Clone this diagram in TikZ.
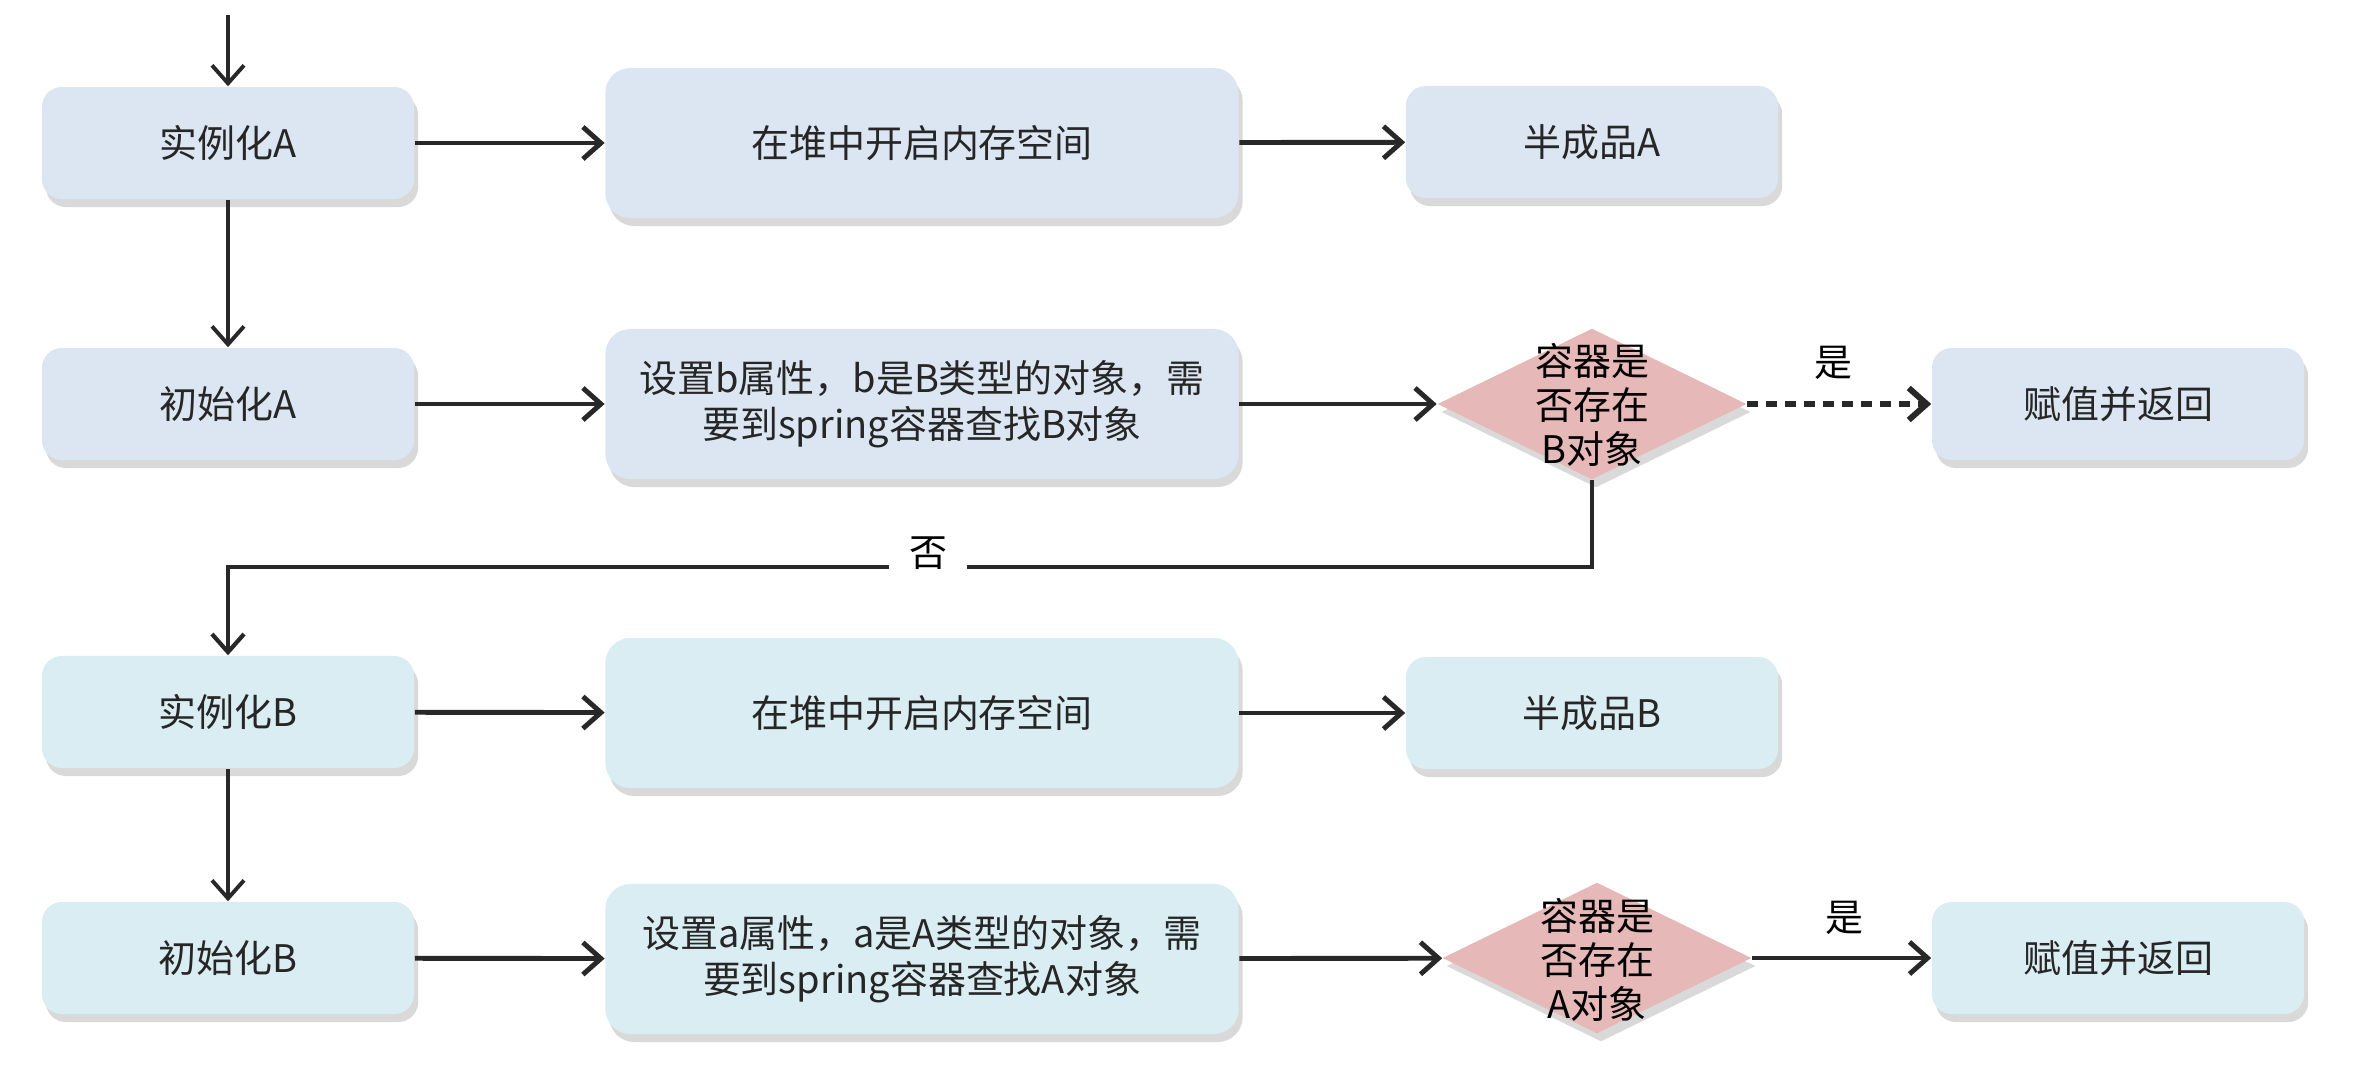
\documentclass[tikz,border=0pt]{standalone}
\usepackage{fontspec}
\setmainfont{Noto Sans CJK SC}
\usetikzlibrary{shapes.geometric,arrows.meta,shadows}
\definecolor{boxA}{RGB}{220,230,242}
\definecolor{boxB}{RGB}{218,237,243}
\definecolor{rhombcol}{RGB}{230,184,183}
\definecolor{linegray}{RGB}{40,40,40}

\begin{document}
\begin{tikzpicture}[x=0.01cm,y=-0.01cm,
  font=\fontsize{10.8pt}{13pt}\selectfont,
  shade/.style={drop shadow={shadow xshift=0.4mm,shadow yshift=-0.8mm,opacity=0.3}},
  box/.style={rounded corners=0.2cm,minimum width=3.72cm,minimum height=1.12cm,inner sep=0pt,align=center,text=black!85,shade},
  bigbox/.style={box,minimum width=6.33cm,minimum height=1.5cm,rounded corners=0.25cm},
  rhomb/.style={diamond,fill=rhombcol,minimum width=3.09cm,minimum height=1.51cm,inner sep=0pt,shade},
  arr/.style={draw=linegray,line width=1.4pt,-{Straight Barb[length=1.8mm,width=3.2mm]}},
  varr/.style={arr,line width=1.1pt}]
\useasboundingbox (0,0) rectangle (2361,1067);

% object A
\node[box,fill=boxA] (instA) at (228,143) {实例化A};
\node[bigbox,fill=boxA] (heapA) at (922,143) {在堆中开启内存空间};
\node[box,fill=boxA] (halfA) at (1592,142) {半成品A};
\node[box,fill=boxA] (initA) at (228,404) {初始化A};
\node[bigbox,fill=boxA] (setB) at (922,404) {设置b属性，b是B类型的对象，需\\要到spring容器查找B对象};
\node[rhomb] (dA) at (1592,404) {};
\node[align=center,inner sep=0pt,font=\fontsize{10.8pt}{12.4pt}\selectfont] (dAt) at (1592,405) {容器是\\否存在\\B对象};
\node[box,fill=boxA] (retA) at (2118,404) {赋值并返回};

% object B
\node[box,fill=boxB] (instB) at (228,712) {实例化B};
\node[bigbox,fill=boxB] (heapB) at (922,713) {在堆中开启内存空间};
\node[box,fill=boxB] (halfB) at (1592,713) {半成品B};
\node[box,fill=boxB] (initB) at (228,958) {初始化B};
\node[bigbox,fill=boxB] (setA) at (922,959) {设置a属性，a是A类型的对象，需\\要到spring容器查找A对象};
\node[rhomb] (dB) at (1597,958) {};
\node[align=center,inner sep=0pt,font=\fontsize{10.8pt}{12.4pt}\selectfont] (dBt) at (1597,960) {容器是\\否存在\\A对象};
\node[box,fill=boxB] (retB) at (2118,958) {赋值并返回};

\coordinate (start) at (228,15);
\coordinate (turn) at (1592,567);

\draw[varr] (start)--(instA);
\draw[arr] (instA)--(heapA);
\draw[arr] (heapA)--(halfA);
\draw[varr] (instA)--(initA);
\draw[arr] (initA)--(setB);
\draw[arr] (setB)--(dA);
\draw[arr,line width=1.7pt,dash pattern=on 1.1mm off 0.8mm] (dA)--(retA);
\node (yesA) at (1833,363) {是};

\draw[varr,line width=1.2pt] (dA.south)--(turn)-|(instB.north);
\node[fill=white,inner xsep=0.2cm,inner ysep=0.1cm] (noA) at (928,553) {否};

\draw[arr] (instB)--(heapB);
\draw[arr] (heapB)--(halfB);
\draw[varr] (instB)--(initB);
\draw[arr] (initB)--(setA);
\draw[arr] (setA)--(dB);
\draw[arr] (dB)--(retB);
\node (yesB) at (1844,918) {是};
\end{tikzpicture}
\end{document}
